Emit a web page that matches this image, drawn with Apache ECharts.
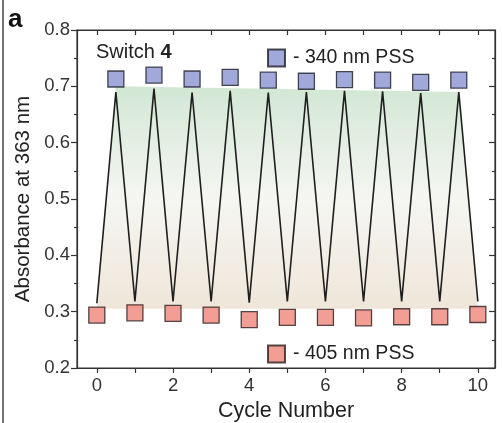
<!DOCTYPE html>
<html>
<head>
<meta charset="utf-8">
<script src="https://cdn.jsdelivr.net/npm/echarts@6/dist/echarts.min.js"></script>
<style>html,body{margin:0;padding:0;background:#fff;}#chart{width:502px;height:423px;}</style>
</head>
<body>
<div id="chart"></div>
<script>
// switching cycles, absorbance at 363 nm
var cycles405 = [0, 1, 2, 3, 4, 5, 6, 7, 8, 9, 10];
var abs405 = [0.294, 0.298, 0.297, 0.294, 0.286, 0.290, 0.290, 0.289, 0.291, 0.291, 0.295];
var cycles340 = [0.5, 1.5, 2.5, 3.5, 4.5, 5.5, 6.5, 7.5, 8.5, 9.5];
var abs340 = [0.713, 0.720, 0.713, 0.716, 0.711, 0.709, 0.712, 0.711, 0.707, 0.711];
// zigzag guide line: valleys at integer cycles, peaks at half cycles
var zigValleys = [0.315, 0.318, 0.318, 0.318, 0.316, 0.318, 0.318, 0.318, 0.318, 0.318, 0.318];
var zigPeaks = [0.690, 0.696, 0.689, 0.692, 0.689, 0.690, 0.692, 0.691, 0.688, 0.690];
// shaded envelope behind the line
var bandX = [0, 0.5, 9.5, 10];
var bandTop = [0.305, 0.700, 0.690, 0.305];
var bandBase = 0.305;
var xTicks = [0, 1, 2, 3, 4, 5, 6, 7, 8, 9, 10];
var xLabels = [0, 2, 4, 6, 8, 10];

var zig = [];
for (var i = 0; i < zigValleys.length; i++) {
  zig.push([cycles405[i], zigValleys[i]]);
  if (i < zigPeaks.length) zig.push([cycles340[i], zigPeaks[i]]);
}
var band = bandX.map(function(x, i){ return [x, bandTop[i]]; });

var font = 'Liberation Sans, Arial, sans-serif';
var axisCol = '#333';

var chart = echarts.init(document.getElementById('chart'));
chart.setOption({
  animation: false,
  textStyle: {fontFamily: font},
  grid: {left: 77, right: 7, top: 30, bottom: 55, outerBoundsMode: 'none', containLabel: false,
    show: true, borderColor: axisCol, borderWidth: 1.2, backgroundColor: 'transparent'},
  legend: [
    {data: ['340'], left: 262, top: 43, itemWidth: 17, itemHeight: 17, itemGap: 0,
      formatter: '- 340 nm PSS', textStyle: {fontSize: 19.5, color: '#222', fontFamily: font, padding: [0, 0, 0, 3]}},
    {data: ['405'], left: 262, top: 339, itemWidth: 17, itemHeight: 17, itemGap: 0,
      formatter: '- 405 nm PSS', textStyle: {fontSize: 19.5, color: '#222', fontFamily: font, padding: [0, 0, 0, 3]}}
  ],
  xAxis: [
    {type: 'value', min: -0.52, max: 10.45, position: 'bottom',
      name: 'Cycle Number', nameLocation: 'middle', nameGap: 32,
      nameTextStyle: {fontSize: 21.5, color: '#222'},
      axisLine: {onZero: false, lineStyle: {color: axisCol, width: 1.2}},
      axisTick: {customValues: xTicks, length: 5, lineStyle: {color: axisCol, width: 1.2}},
      axisLabel: {customValues: xLabels, fontSize: 18.5, color: '#333', margin: 8},
      splitLine: {show: false}},
    {type: 'value', min: -0.52, max: 10.45, position: 'top',
      axisLine: {show: true, onZero: false, lineStyle: {color: axisCol, width: 1.2}},
      axisTick: {customValues: xTicks, inside: true, length: 5, lineStyle: {color: axisCol, width: 1.2}},
      axisLabel: {show: false}, splitLine: {show: false}}
  ],
  yAxis: [
    {type: 'value', min: 0.2, max: 0.8, interval: 0.1, position: 'left',
      name: 'Absorbance at 363 nm', nameLocation: 'middle', nameGap: 41,
      nameTextStyle: {fontSize: 20.5, color: '#222'},
      axisLine: {show: true, onZero: false, lineStyle: {color: axisCol, width: 1.2}},
      axisTick: {show: true, length: 6, lineStyle: {color: axisCol, width: 1.2}},
      minorTick: {show: true, splitNumber: 2, length: 3, lineStyle: {color: axisCol, width: 1.2}},
      axisLabel: {fontSize: 18.5, color: '#333', margin: 7, formatter: function(v){ return v.toFixed(1); }},
      splitLine: {show: false}},
    {type: 'value', min: 0.2, max: 0.8, interval: 0.1, position: 'right',
      axisLine: {show: true, onZero: false, lineStyle: {color: axisCol, width: 1.2}},
      axisTick: {show: true, inside: true, length: 6, lineStyle: {color: axisCol, width: 1.2}},
      minorTick: {show: true, splitNumber: 2, length: 3, lineStyle: {color: axisCol, width: 1.2}},
      axisLabel: {show: false}, splitLine: {show: false}}
  ],
  graphic: [
    {type: 'line', shape: {x1: 3, y1: 0, x2: 3, y2: 423}, style: {stroke: '#444', lineWidth: 1.5}},
    {type: 'text', left: 8, top: 7, style: {text: 'a', font: 'bold 26px ' + font, fill: '#111'}},
    {type: 'text', left: 96, top: 42, style: {
      text: '{n|Switch }{b|4}',
      rich: {n: {fontSize: 20, fontFamily: font, fill: '#222'}, b: {fontSize: 20, fontFamily: font, fontWeight: 'bold', fill: '#222'}}}}
  ],
  series: [
    {type: 'line', data: band, symbol: 'none', silent: true, z: 1,
      lineStyle: {width: 0},
      areaStyle: {origin: bandBase, opacity: 1,
        color: new echarts.graphic.LinearGradient(0, 0, 0, 1, [
          {offset: 0, color: 'rgb(210,231,212)'},
          {offset: 0.5, color: 'rgb(245,246,242)'},
          {offset: 1, color: 'rgb(239,230,217)'}
        ])}},
    {type: 'line', data: zig, symbol: 'none', z: 2,
      lineStyle: {color: '#1e1e1e', width: 1.6}},
    {name: '340', type: 'scatter', data: cycles340.map(function(x, i){ return [x, abs340[i]]; }),
      symbol: 'rect', symbolSize: 16, z: 3,
      itemStyle: {color: '#8893cf', borderColor: '#1e1e2a', borderWidth: 1.3}},
    {name: '405', type: 'scatter', data: cycles405.map(function(x, i){ return [x, abs405[i]]; }),
      symbol: 'rect', symbolSize: 16, z: 3,
      itemStyle: {color: '#f0867a', borderColor: '#2a1e1e', borderWidth: 1.3}}
  ]
});
</script>
</body>
</html>
